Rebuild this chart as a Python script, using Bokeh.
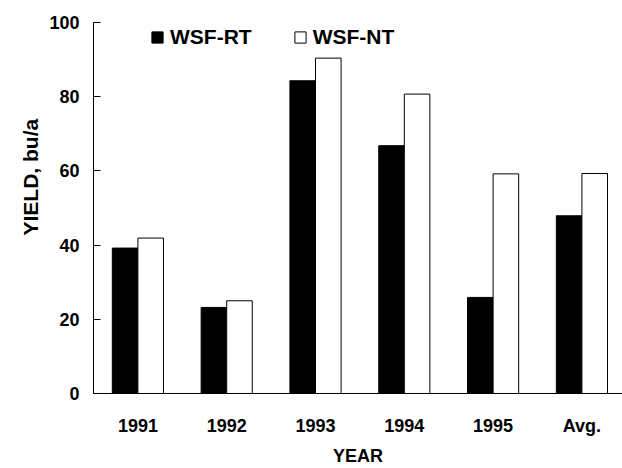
from bokeh.plotting import figure
from bokeh.models import ColumnDataSource, FixedTicker, Legend, LegendItem, Range1d, Title
from bokeh.transform import dodge
from bokeh.embed import file_html
from bokeh.resources import INLINE

years = ["1991", "1992", "1993", "1994", "1995", "Avg."]
wsf_rt = [39.2, 23.2, 84.3, 66.8, 25.9, 47.9]
wsf_nt = [41.9, 25.0, 90.4, 80.7, 59.2, 59.3]
y_ticks = [0, 20, 40, 60, 80, 100]

idx = list(range(len(years)))
src = ColumnDataSource(dict(x=idx, rt=wsf_rt, nt=wsf_nt))

FONT = "Liberation Sans"

p = figure(width=622, height=468, output_backend="svg", toolbar_location=None,
           x_range=Range1d(-0.5, 5.457), y_range=Range1d(0, 100),
           min_border_left=93, min_border_right=0, min_border_top=22, min_border_bottom=75)
p.outline_line_color = None
p.xgrid.grid_line_color = None
p.ygrid.grid_line_color = None
p.background_fill_color = "white"

r1 = p.vbar(x=dodge("x", -0.144), top="rt", width=0.288, source=src,
            fill_color="black", line_color="black", line_width=1)
r2 = p.vbar(x=dodge("x", 0.144), top="nt", width=0.288, source=src,
            fill_color="white", line_color="black", line_width=1)

# x axis
xa = p.xaxis[0]
xa.ticker = FixedTicker(ticks=idx)
xa.major_label_overrides = {i: years[i] for i in idx}
xa.major_tick_line_color = None
xa.minor_tick_line_color = None
xa.major_tick_out = 0
xa.major_tick_in = 0
xa.axis_line_color = "black"
xa.major_label_text_font = FONT
xa.major_label_text_font_style = "bold"
xa.major_label_text_font_size = "18px"
xa.major_label_text_color = "black"
xa.major_label_standoff = 22
xa.axis_label = "YEAR"
xa.axis_label_text_font = FONT
xa.axis_label_text_font_style = "bold"
xa.axis_label_text_font_size = "18px"
xa.axis_label_text_color = "black"
xa.axis_label_standoff = 7

# y axis
ya = p.yaxis[0]
ya.ticker = FixedTicker(ticks=y_ticks)
ya.minor_tick_line_color = None
ya.major_tick_out = 0
ya.major_tick_in = 7
ya.major_tick_line_color = "black"
ya.axis_line_color = "black"
ya.major_label_text_font = FONT
ya.major_label_text_font_style = "bold"
ya.major_label_text_font_size = "18px"
ya.major_label_text_color = "black"
ya.major_label_standoff = 14

ytitle = Title(text="YIELD, bu/a", align="left", offset=158,
               text_font=FONT, text_font_style="bold", text_font_size="21px",
               text_color="black", standoff=10)
p.add_layout(ytitle, "left")

legend = Legend(items=[LegendItem(label="WSF-RT", renderers=[r1]),
                       LegendItem(label="WSF-NT", renderers=[r2])],
                location=(57, 344), orientation="horizontal",
                border_line_color=None, background_fill_alpha=0,
                padding=0, margin=0, spacing=41,
                glyph_width=14, glyph_height=14, label_standoff=6,
                label_text_font=FONT, label_text_font_style="bold",
                label_text_font_size="21px", label_text_color="black")
p.add_layout(legend)

open("out.html", "w").write(file_html(p, INLINE))
